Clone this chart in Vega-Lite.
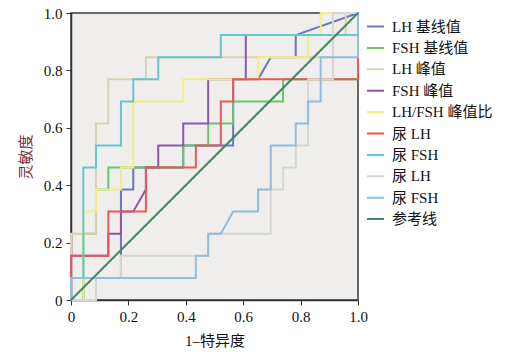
{
"$schema": "https://vega.github.io/schema/vega-lite/v6.json",
"width": 287, "height": 287,
"autosize": {"type": "none"},
"padding": {"left": 71, "top": 13, "right": 166, "bottom": 58},
"background": "white",
"config": {
  "view": {"fill": "#efeeec", "stroke": "#3a3a3a", "strokeWidth": 1.5},
  "font": "Liberation Serif, Noto Sans CJK SC"
},
"data": {"values": [
{"s":"LH 基线值","i":0,"x":0,"y":0},{"s":"LH 基线值","i":1,"x":0.043,"y":0},{"s":"LH 基线值","i":2,"x":0.043,"y":0.077},{"s":"LH 基线值","i":3,"x":0.174,"y":0.077},{"s":"LH 基线值","i":4,"x":0.174,"y":0.385},{"s":"LH 基线值","i":5,"x":0.217,"y":0.385},{"s":"LH 基线值","i":6,"x":0.217,"y":0.462},{"s":"LH 基线值","i":7,"x":0.391,"y":0.462},{"s":"LH 基线值","i":8,"x":0.391,"y":0.538},{"s":"LH 基线值","i":9,"x":0.565,"y":0.538},{"s":"LH 基线值","i":10,"x":0.565,"y":0.769},{"s":"LH 基线值","i":11,"x":0.652,"y":0.769},{"s":"LH 基线值","i":12,"x":0.696,"y":0.846},{"s":"LH 基线值","i":13,"x":0.783,"y":0.846},{"s":"LH 基线值","i":14,"x":0.783,"y":0.923},{"s":"LH 基线值","i":15,"x":1,"y":1},
{"s":"FSH 基线值","i":0,"x":0,"y":0},{"s":"FSH 基线值","i":1,"x":0.043,"y":0},{"s":"FSH 基线值","i":2,"x":0.043,"y":0.231},{"s":"FSH 基线值","i":3,"x":0.087,"y":0.231},{"s":"FSH 基线值","i":4,"x":0.087,"y":0.385},{"s":"FSH 基线值","i":5,"x":0.13,"y":0.385},{"s":"FSH 基线值","i":6,"x":0.13,"y":0.462},{"s":"FSH 基线值","i":7,"x":0.391,"y":0.462},{"s":"FSH 基线值","i":8,"x":0.391,"y":0.538},{"s":"FSH 基线值","i":9,"x":0.478,"y":0.538},{"s":"FSH 基线值","i":10,"x":0.478,"y":0.615},{"s":"FSH 基线值","i":11,"x":0.565,"y":0.615},{"s":"FSH 基线值","i":12,"x":0.565,"y":0.692},{"s":"FSH 基线值","i":13,"x":0.739,"y":0.692},{"s":"FSH 基线值","i":14,"x":0.739,"y":0.769},{"s":"FSH 基线值","i":15,"x":1,"y":0.769},{"s":"FSH 基线值","i":16,"x":1,"y":1},
{"s":"LH 峰值","i":0,"x":0,"y":0},{"s":"LH 峰值","i":1,"x":0,"y":0.231},{"s":"LH 峰值","i":2,"x":0.087,"y":0.231},{"s":"LH 峰值","i":3,"x":0.087,"y":0.615},{"s":"LH 峰值","i":4,"x":0.13,"y":0.615},{"s":"LH 峰值","i":5,"x":0.13,"y":0.769},{"s":"LH 峰值","i":6,"x":0.261,"y":0.769},{"s":"LH 峰值","i":7,"x":0.261,"y":0.846},{"s":"LH 峰值","i":8,"x":0.913,"y":0.846},{"s":"LH 峰值","i":9,"x":0.913,"y":0.923},{"s":"LH 峰值","i":10,"x":0.957,"y":0.923},{"s":"LH 峰值","i":11,"x":0.957,"y":1},{"s":"LH 峰值","i":12,"x":1,"y":1},
{"s":"FSH 峰值","i":0,"x":0,"y":0},{"s":"FSH 峰值","i":1,"x":0,"y":0.154},{"s":"FSH 峰值","i":2,"x":0.13,"y":0.154},{"s":"FSH 峰值","i":3,"x":0.13,"y":0.231},{"s":"FSH 峰值","i":4,"x":0.174,"y":0.231},{"s":"FSH 峰值","i":5,"x":0.174,"y":0.308},{"s":"FSH 峰值","i":6,"x":0.217,"y":0.308},{"s":"FSH 峰值","i":7,"x":0.261,"y":0.385},{"s":"FSH 峰值","i":8,"x":0.261,"y":0.462},{"s":"FSH 峰值","i":9,"x":0.304,"y":0.462},{"s":"FSH 峰值","i":10,"x":0.304,"y":0.538},{"s":"FSH 峰值","i":11,"x":0.391,"y":0.538},{"s":"FSH 峰值","i":12,"x":0.391,"y":0.615},{"s":"FSH 峰值","i":13,"x":0.478,"y":0.615},{"s":"FSH 峰值","i":14,"x":0.478,"y":0.769},{"s":"FSH 峰值","i":15,"x":0.609,"y":0.769},{"s":"FSH 峰值","i":16,"x":0.609,"y":0.923},{"s":"FSH 峰值","i":17,"x":1,"y":0.923},{"s":"FSH 峰值","i":18,"x":1,"y":1},
{"s":"LH/FSH 峰值比","i":0,"x":0,"y":0},{"s":"LH/FSH 峰值比","i":1,"x":0.043,"y":0},{"s":"LH/FSH 峰值比","i":2,"x":0.043,"y":0.308},{"s":"LH/FSH 峰值比","i":3,"x":0.087,"y":0.308},{"s":"LH/FSH 峰值比","i":4,"x":0.087,"y":0.385},{"s":"LH/FSH 峰值比","i":5,"x":0.174,"y":0.385},{"s":"LH/FSH 峰值比","i":6,"x":0.174,"y":0.462},{"s":"LH/FSH 峰值比","i":7,"x":0.217,"y":0.462},{"s":"LH/FSH 峰值比","i":8,"x":0.217,"y":0.692},{"s":"LH/FSH 峰值比","i":9,"x":0.391,"y":0.692},{"s":"LH/FSH 峰值比","i":10,"x":0.391,"y":0.769},{"s":"LH/FSH 峰值比","i":11,"x":0.652,"y":0.769},{"s":"LH/FSH 峰值比","i":12,"x":0.652,"y":0.846},{"s":"LH/FSH 峰值比","i":13,"x":0.826,"y":0.846},{"s":"LH/FSH 峰值比","i":14,"x":0.826,"y":0.923},{"s":"LH/FSH 峰值比","i":15,"x":0.87,"y":0.923},{"s":"LH/FSH 峰值比","i":16,"x":0.87,"y":1},{"s":"LH/FSH 峰值比","i":17,"x":1,"y":1},
{"s":"尿 LH","i":0,"x":0,"y":0},{"s":"尿 LH","i":1,"x":0,"y":0.154},{"s":"尿 LH","i":2,"x":0.13,"y":0.154},{"s":"尿 LH","i":3,"x":0.13,"y":0.308},{"s":"尿 LH","i":4,"x":0.261,"y":0.308},{"s":"尿 LH","i":5,"x":0.261,"y":0.462},{"s":"尿 LH","i":6,"x":0.435,"y":0.462},{"s":"尿 LH","i":7,"x":0.435,"y":0.538},{"s":"尿 LH","i":8,"x":0.522,"y":0.538},{"s":"尿 LH","i":9,"x":0.522,"y":0.692},{"s":"尿 LH","i":10,"x":0.565,"y":0.692},{"s":"尿 LH","i":11,"x":0.565,"y":0.769},{"s":"尿 LH","i":12,"x":1,"y":0.769},{"s":"尿 LH","i":13,"x":1,"y":1},
{"s":"尿 FSH","i":0,"x":0,"y":0},{"s":"尿 FSH","i":1,"x":0,"y":0.077},{"s":"尿 FSH","i":2,"x":0.043,"y":0.077},{"s":"尿 FSH","i":3,"x":0.043,"y":0.462},{"s":"尿 FSH","i":4,"x":0.087,"y":0.462},{"s":"尿 FSH","i":5,"x":0.087,"y":0.538},{"s":"尿 FSH","i":6,"x":0.174,"y":0.538},{"s":"尿 FSH","i":7,"x":0.174,"y":0.692},{"s":"尿 FSH","i":8,"x":0.217,"y":0.692},{"s":"尿 FSH","i":9,"x":0.217,"y":0.769},{"s":"尿 FSH","i":10,"x":0.304,"y":0.769},{"s":"尿 FSH","i":11,"x":0.304,"y":0.846},{"s":"尿 FSH","i":12,"x":0.522,"y":0.846},{"s":"尿 FSH","i":13,"x":0.522,"y":0.923},{"s":"尿 FSH","i":14,"x":1,"y":0.923},{"s":"尿 FSH","i":15,"x":1,"y":1},
{"s":"尿\u00a0LH","i":0,"x":0,"y":0},{"s":"尿\u00a0LH","i":1,"x":0.087,"y":0},{"s":"尿\u00a0LH","i":2,"x":0.087,"y":0.077},{"s":"尿\u00a0LH","i":3,"x":0.174,"y":0.077},{"s":"尿\u00a0LH","i":4,"x":0.174,"y":0.154},{"s":"尿\u00a0LH","i":5,"x":0.478,"y":0.154},{"s":"尿\u00a0LH","i":6,"x":0.478,"y":0.231},{"s":"尿\u00a0LH","i":7,"x":0.696,"y":0.231},{"s":"尿\u00a0LH","i":8,"x":0.696,"y":0.385},{"s":"尿\u00a0LH","i":9,"x":0.739,"y":0.385},{"s":"尿\u00a0LH","i":10,"x":0.739,"y":0.462},{"s":"尿\u00a0LH","i":11,"x":0.783,"y":0.462},{"s":"尿\u00a0LH","i":12,"x":0.783,"y":0.538},{"s":"尿\u00a0LH","i":13,"x":0.826,"y":0.538},{"s":"尿\u00a0LH","i":14,"x":0.826,"y":0.769},{"s":"尿\u00a0LH","i":15,"x":0.913,"y":0.769},{"s":"尿\u00a0LH","i":16,"x":0.913,"y":1},{"s":"尿\u00a0LH","i":17,"x":1,"y":1},
{"s":"尿\u00a0FSH","i":0,"x":0,"y":0},{"s":"尿\u00a0FSH","i":1,"x":0,"y":0.077},{"s":"尿\u00a0FSH","i":2,"x":0.435,"y":0.077},{"s":"尿\u00a0FSH","i":3,"x":0.435,"y":0.154},{"s":"尿\u00a0FSH","i":4,"x":0.478,"y":0.154},{"s":"尿\u00a0FSH","i":5,"x":0.478,"y":0.231},{"s":"尿\u00a0FSH","i":6,"x":0.522,"y":0.231},{"s":"尿\u00a0FSH","i":7,"x":0.565,"y":0.308},{"s":"尿\u00a0FSH","i":8,"x":0.652,"y":0.308},{"s":"尿\u00a0FSH","i":9,"x":0.652,"y":0.385},{"s":"尿\u00a0FSH","i":10,"x":0.696,"y":0.385},{"s":"尿\u00a0FSH","i":11,"x":0.696,"y":0.538},{"s":"尿\u00a0FSH","i":12,"x":0.783,"y":0.538},{"s":"尿\u00a0FSH","i":13,"x":0.783,"y":0.615},{"s":"尿\u00a0FSH","i":14,"x":0.826,"y":0.615},{"s":"尿\u00a0FSH","i":15,"x":0.826,"y":0.692},{"s":"尿\u00a0FSH","i":16,"x":0.87,"y":0.692},{"s":"尿\u00a0FSH","i":17,"x":0.87,"y":0.846},{"s":"尿\u00a0FSH","i":18,"x":1,"y":0.846},{"s":"尿\u00a0FSH","i":19,"x":1,"y":1},
{"s":"参考线","i":0,"x":0,"y":0},{"s":"参考线","i":1,"x":1,"y":1}
]},
"mark": {"type": "line", "strokeWidth": 2, "clip": false},
"encoding": {
  "x": {"field": "x", "type": "quantitative", "scale": {"domain": [0, 1], "nice": false},
    "axis": {"values": [0, 0.2, 0.4, 0.6, 0.8, 1], "labelExpr": "datum.value == 0 ? '0' : format(datum.value, '.1f')", "grid": false, "tickSize": 5, "tickColor": "#333", "domainColor": "#333", "domainWidth": 1.5, "labelFontSize": 15, "labelColor": "#111", "labelPadding": 4, "labelFlush": false, "title": "1–特异度", "titleFontSize": 15, "titleFontWeight": "normal", "titleColor": "#111", "titlePadding": 9}},
  "y": {"field": "y", "type": "quantitative", "scale": {"domain": [0, 1], "nice": false},
    "axis": {"values": [0, 0.2, 0.4, 0.6, 0.8, 1], "labelExpr": "datum.value == 0 ? '0' : format(datum.value, '.1f')", "grid": false, "tickSize": 5, "tickColor": "#333", "domainColor": "#333", "domainWidth": 1.5, "labelFontSize": 15, "labelColor": "#111", "labelPadding": 4, "labelFlush": false, "title": "灵敏度", "titleFontSize": 15, "titleFontWeight": "normal", "titleColor": "#7b3030", "titlePadding": 10}},
  "color": {"field": "s", "type": "nominal",
    "scale": {"domain": ["LH 基线值", "FSH 基线值", "LH 峰值", "FSH 峰值", "LH/FSH 峰值比", "尿 LH", "尿 FSH", "尿\u00a0LH", "尿\u00a0FSH", "参考线"],
      "range": ["#6a74c0", "#6cc46c", "#d9d2b0", "#8a58a8", "#f2ef80", "#e8595a", "#62c8cc", "#d6d6d2", "#92bcdc", "#3c8a5e"]},
    "legend": {"title": null, "orient": "none", "legendX": 295, "legendY": 6, "padding": 0, "symbolType": "stroke", "symbolSize": 289, "symbolStrokeWidth": 2, "labelFontSize": 15, "labelColor": "#111", "labelOffset": 7, "rowPadding": 5.4, "clipHeight": 15, "labelLimit": 200}},
  "order": {"field": "i", "type": "quantitative"}
}
}
